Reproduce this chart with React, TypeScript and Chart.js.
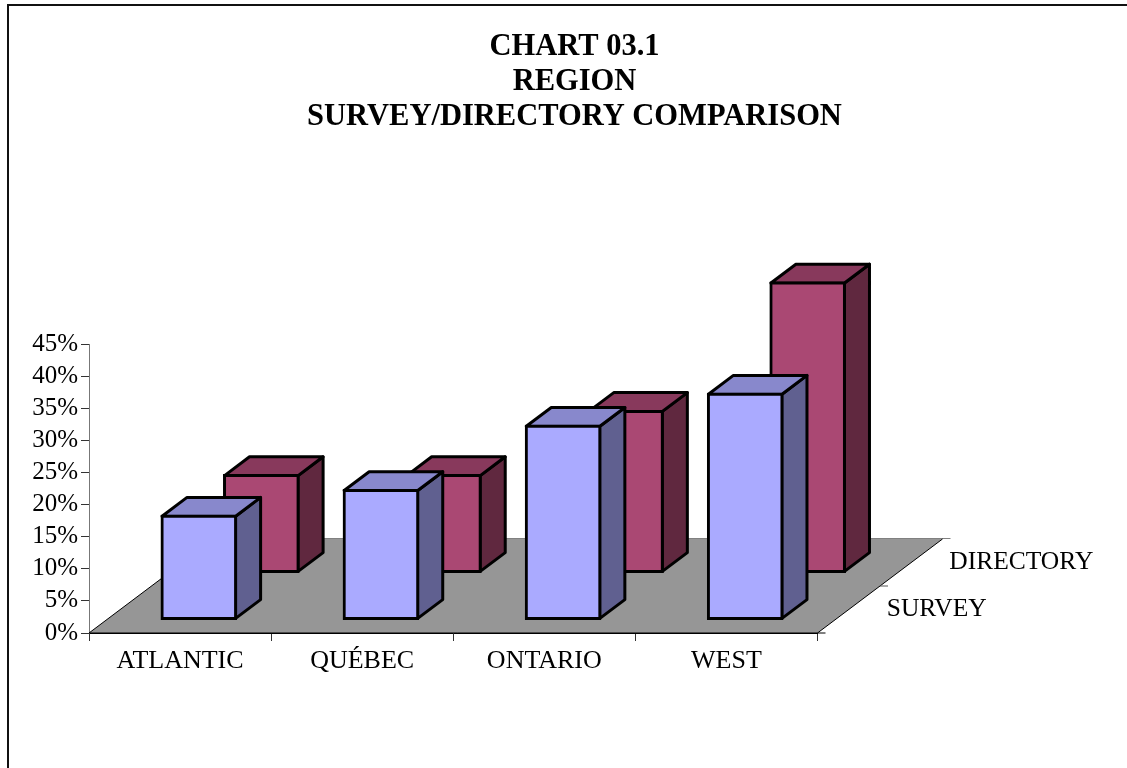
import React, { useEffect, useRef } from "react";
import { Chart, registerables } from "chart.js";

Chart.register(...registerables);

const categories = ["ATLANTIC", "QUÉBEC", "ONTARIO", "WEST"];
const surveyValues = [16, 20, 30, 35];
const directoryValues = [15, 15, 25, 45];
const depthCategories = ["SURVEY", "DIRECTORY"];
const titleLines = ["CHART 03.1", "REGION", "SURVEY/DIRECTORY COMPARISON"];

const FONT = "'Liberation Serif', 'Times New Roman', serif";
const DEPTH_X = 125;
const DEPTH_Y = -94;
const BAR_DEPTH = 0.2;

const faceColors = [
  { top: "#8888CC", side: "#606090" },
  { top: "#88395C", side: "#60283F" },
];

// depth index of a dataset: survey = front row, directory = back row
const rowCentre = (row: number) => (row + 0.5) / depthCategories.length;
const rowFront = (row: number) => rowCentre(row) - BAR_DEPTH / 2;

const threeD = {
  id: "threeD",
  beforeDraw(chart: any) {
    const { ctx } = chart;
    ctx.save();
    ctx.fillStyle = "#fff";
    ctx.fillRect(0, 0, chart.width, chart.height);
    ctx.strokeStyle = "#111";
    ctx.lineWidth = 2;
    ctx.beginPath();
    ctx.moveTo(8, chart.height);
    ctx.lineTo(8, 5);
    ctx.lineTo(chart.width, 5);
    ctx.stroke();
    ctx.restore();
  },
  beforeDatasetsDraw(chart: any) {
    const { ctx, chartArea: a } = chart;
    const l = a.left, r = a.right, b = a.bottom;
    ctx.save();
    ctx.fillStyle = "#969696";
    ctx.beginPath();
    ctx.moveTo(l, b);
    ctx.lineTo(r, b);
    ctx.lineTo(r + DEPTH_X, b + DEPTH_Y);
    ctx.lineTo(l + DEPTH_X, b + DEPTH_Y);
    ctx.closePath();
    ctx.fill();
    // back edge and its tick
    ctx.strokeStyle = "#808080";
    ctx.lineWidth = 1;
    ctx.beginPath();
    ctx.moveTo(l + DEPTH_X, b + DEPTH_Y - 0.5);
    ctx.lineTo(r + DEPTH_X + 8, b + DEPTH_Y - 0.5);
    ctx.stroke();
    // front, left and right edges
    ctx.strokeStyle = "#000";
    ctx.beginPath();
    ctx.moveTo(l + DEPTH_X, b + DEPTH_Y);
    ctx.lineTo(l, b);
    ctx.lineTo(r + 8, b);
    ctx.moveTo(r, b);
    ctx.lineTo(r + DEPTH_X, b + DEPTH_Y);
    ctx.stroke();
    // depth-axis mid tick
    ctx.strokeStyle = "#555";
    ctx.beginPath();
    ctx.moveTo(r + DEPTH_X / 2, b + DEPTH_Y / 2);
    ctx.lineTo(r + DEPTH_X / 2 + 8, b + DEPTH_Y / 2);
    ctx.stroke();
    // depth-axis labels
    ctx.fillStyle = "#000";
    ctx.font = `25.5px ${FONT}`;
    ctx.textAlign = "left";
    ctx.textBaseline = "middle";
    depthCategories.forEach((label, i) => {
      const f = rowCentre(i);
      ctx.fillText(label, r + f * DEPTH_X + 38, b + f * DEPTH_Y);
    });
    ctx.restore();
  },
  beforeDatasetDraw(chart: any, args: any) {
    const { ctx } = chart;
    const row = args.index;
    const f = rowFront(row);
    const dx = BAR_DEPTH * DEPTH_X;
    const dy = BAR_DEPTH * DEPTH_Y;
    ctx.save();
    ctx.translate(f * DEPTH_X, f * DEPTH_Y);
    args.meta.data.forEach((el: any) => {
      const { x, y, base, width } = el.getProps(["x", "y", "base", "width"], true);
      const left = x - width / 2;
      const right = x + width / 2;
      ctx.lineWidth = 3;
      ctx.strokeStyle = "#000";
      ctx.lineJoin = "round";
      ctx.fillStyle = faceColors[row].side;
      ctx.beginPath();
      ctx.moveTo(right, y);
      ctx.lineTo(right + dx, y + dy);
      ctx.lineTo(right + dx, base + dy);
      ctx.lineTo(right, base);
      ctx.closePath();
      ctx.fill();
      ctx.stroke();
      ctx.fillStyle = faceColors[row].top;
      ctx.beginPath();
      ctx.moveTo(left, y);
      ctx.lineTo(left + dx, y + dy);
      ctx.lineTo(right + dx, y + dy);
      ctx.lineTo(right, y);
      ctx.closePath();
      ctx.fill();
      ctx.stroke();
    });
  },
  afterDatasetDraw(chart: any) {
    chart.ctx.restore();
  },
};

export default function App() {
  const ref = useRef<HTMLCanvasElement>(null);
  useEffect(() => {
    const chart = new Chart(ref.current as HTMLCanvasElement, {
      type: "bar",
      data: {
        labels: categories,
        datasets: [
          { label: depthCategories[0], data: surveyValues, backgroundColor: "#AAAAFF" },
          { label: depthCategories[1], data: directoryValues, backgroundColor: "#AA4873" },
        ],
      },
      plugins: [threeD],
      options: {
        responsive: false,
        animation: false,
        devicePixelRatio: 1,
        layout: { padding: { left: 22, right: 0, top: 30, bottom: 0 } },
        datasets: {
          bar: {
            grouped: false,
            barPercentage: 0.404,
            categoryPercentage: 1,
            borderColor: "#000",
            borderWidth: 3,
            borderSkipped: false,
            inflateAmount: 1.5,
            clip: false,
          },
        },
        plugins: {
          legend: { display: false },
          tooltip: { enabled: false },
          title: {
            display: true,
            text: titleLines,
            color: "#000",
            font: { family: FONT, size: 30.5, weight: "bold", lineHeight: 34.7 / 30.5 },
            padding: { top: 0, bottom: 210 },
          },
        },
        scales: {
          x: {
            grid: { drawOnChartArea: false, drawTicks: true, tickLength: 8, color: "#333", offset: true },
            border: { display: true, color: "#000" },
            ticks: { color: "#000", font: { family: FONT, size: 26 }, padding: 5, maxRotation: 0 },
            afterFit: (s: any) => { s.height = 135; },
          },
          y: {
            min: 0,
            max: 45,
            grid: { drawOnChartArea: false, drawTicks: true, tickLength: 8, color: "#333" },
            border: { display: true, color: "#777" },
            ticks: {
              stepSize: 5,
              autoSkip: false,
              color: "#000",
              font: { family: FONT, size: 25 },
              padding: 3,
              callback: (v: any) => `${v}%`,
            },
            afterFit: (s: any) => { s.width = 67; },
          },
          depth: {
            type: "category",
            position: "right",
            labels: depthCategories,
            grid: { display: false },
            border: { display: false },
            ticks: { display: false },
            afterFit: (s: any) => { s.width = 309.5; },
          },
        },
      },
    } as any);
    return () => chart.destroy();
  }, []);
  return (
    <canvas
      ref={ref}
      width={1127}
      height={768}
      style={{ position: "absolute", left: 0, top: 0, display: "block" }}
    />
  );
}
